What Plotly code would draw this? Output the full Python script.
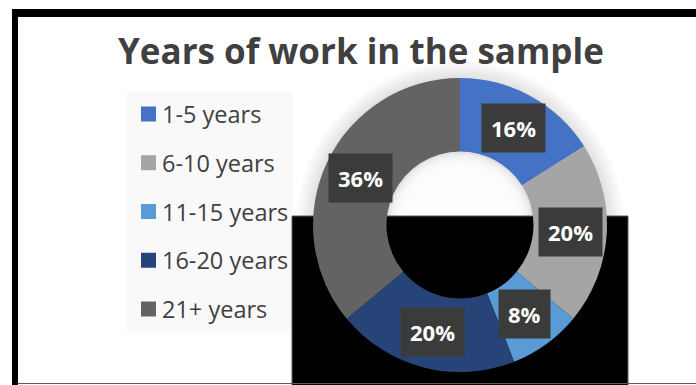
import numpy as np
import plotly.graph_objects as go

# ---- data ----
categories = ["1-5 years", "6-10 years", "11-15 years", "16-20 years", "21+ years"]
shares = [16, 20, 8, 20, 36]
colors = ["#4472C4", "#A5A5A5", "#5B9BD5", "#264478", "#636363"]
title_text = "Years of work in the sample"

W, H = 696, 385
def px(x):
    return x / W
def py(y):
    return 1 - y / H

# donut geometry (pixels)
cx, cy, R = 460, 225, 147
hole = 0.5

fig = go.Figure()
fig.add_trace(go.Pie(
    labels=categories, values=shares, sort=False, direction="clockwise",
    rotation=0, hole=hole, marker=dict(colors=colors, line=dict(width=0)),
    textinfo="none", hoverinfo="label+percent", showlegend=False,
    domain=dict(x=[px(cx - R), px(cx + R)], y=[py(cy + R), py(cy - R)]),
))

shapes = []
# soft glow around the ring
for k in range(10):
    r = R + 1 + k * 1.8
    shapes.append(dict(type="circle", xref="paper", yref="paper", layer="below",
                       x0=px(cx - r), x1=px(cx + r), y0=py(cy + r), y1=py(cy - r),
                       fillcolor="rgba(0,0,0,0.012)", line=dict(width=0)))
# inner shadow in the hole
rh = R * hole
shapes.append(dict(type="circle", xref="paper", yref="paper", layer="below",
                   x0=px(cx - rh), x1=px(cx + rh), y0=py(cy + rh), y1=py(cy - rh),
                   fillcolor="#e2e2e2", line=dict(width=0)))
for k in range(1, 9):
    r = rh - k * 2
    shapes.append(dict(type="circle", xref="paper", yref="paper", layer="below",
                       x0=px(cx - r), x1=px(cx + r), y0=py(cy + r), y1=py(cy - r),
                       fillcolor="rgba(255,255,255,0.3)", line=dict(width=0)))
# legend background
shapes.append(dict(type="rect", xref="paper", yref="paper", layer="below",
                   x0=px(127), x1=px(293), y0=py(333), y1=py(92),
                   fillcolor="#f9f9f9", line=dict(width=0)))
# black block behind the lower half
shapes.append(dict(type="rect", xref="paper", yref="paper", layer="below",
                   x0=px(292), x1=px(628), y0=py(386), y1=py(216),
                   fillcolor="#000000", line=dict(color="#5a5a5a", width=1)))
# frame
shapes.append(dict(type="rect", xref="paper", yref="paper", layer="above",
                   x0=px(12), x1=px(697), y0=py(17), y1=py(9),
                   fillcolor="#000000", line=dict(width=0)))
shapes.append(dict(type="rect", xref="paper", yref="paper", layer="above",
                   x0=px(12), x1=px(18), y0=py(386), y1=py(9),
                   fillcolor="#000000", line=dict(width=0)))
shapes.append(dict(type="line", xref="paper", yref="paper", layer="below",
                   x0=px(18), x1=px(697), y0=py(383.5), y1=py(383.5),
                   line=dict(color="#5a5a5a", width=1)))

annotations = []
# data labels at the middle of each ring segment
vals = np.array(shares, dtype=float)
frac = vals / vals.sum()
mid = np.cumsum(frac) - frac / 2
rm = (R + rh) / 2
for v, m in zip(shares, mid):
    ang = 2 * np.pi * m
    x = cx + rm * np.sin(ang)
    y = cy - rm * np.cos(ang)
    annotations.append(dict(x=px(x), y=py(y), xref="paper", yref="paper",
                            xanchor="center", yanchor="middle",
                            text=f"<b>{v}%</b>", showarrow=False,
                            font=dict(family="Open Sans", size=22, color="white"),
                            bgcolor="#3b3b3b", borderpad=9))

# manual legend
for i, (lab, col) in enumerate(zip(categories, colors)):
    yy = 114 + i * 48.75
    shapes.append(dict(type="rect", xref="paper", yref="paper", layer="above",
                       x0=px(141), x1=px(156), y0=py(yy + 7.5), y1=py(yy - 7.5),
                       fillcolor=col, line=dict(width=0)))
    annotations.append(dict(x=px(160), y=py(yy), xref="paper", yref="paper",
                            xanchor="left", yanchor="middle", text=lab, showarrow=False,
                            font=dict(family="Open Sans", size=23.5, color="#404040")))

annotations.append(dict(x=px(361), y=py(51), xref="paper", yref="paper",
                        xanchor="center", yanchor="middle",
                        text=f"<b>{title_text}</b>", showarrow=False,
                        font=dict(family="Open Sans", size=35, color="#404040")))

fig.update_layout(width=W, height=H, margin=dict(l=0, r=0, t=0, b=0),
                  paper_bgcolor="white", plot_bgcolor="white",
                  shapes=shapes, annotations=annotations, showlegend=False)
fig.write_html("out.html")
